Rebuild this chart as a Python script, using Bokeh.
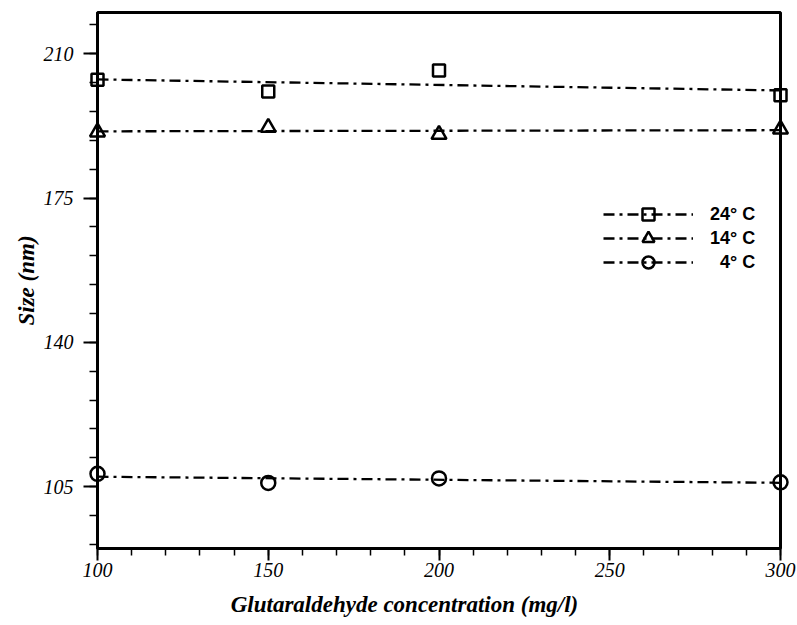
from bokeh.plotting import figure
from bokeh.models import FixedTicker, Legend, LegendItem, Range1d
from bokeh.embed import file_html
from bokeh.resources import INLINE
import numpy as np

# ---- data ----
conc = [100, 150, 200, 300]
size_24 = [203.7, 200.85, 205.95, 199.9]
size_14 = [191.0, 192.1, 190.4, 191.7]
size_4 = [108.1, 105.9, 107.0, 106.05]
labels = ["24\u00b0 C", "14\u00b0 C", "\u20074\u00b0 C"]

x_ticks = [100, 150, 200, 250, 300]
x_minor = list(range(100, 301, 10))
y_ticks = [105, 140, 175, 210]
y_minor = list(range(91, 220, 7))

p = figure(width=797, height=625, output_backend="svg", toolbar_location=None,
           x_range=Range1d(100, 300), y_range=Range1d(90, 220),
           min_border_left=97, min_border_right=17, min_border_top=12, min_border_bottom=77,
           background_fill_color="white", border_fill_color="white")

p.xgrid.visible = False
p.ygrid.visible = False
p.outline_line_color = "black"
p.outline_line_width = 3

dash = "11 5 3 5"
series = [(size_24, "square", 12), (size_14, "triangle", 15), (size_4, "circle", 14)]
legend_bottoms = [319, 295, 271]  # screen offsets of the three legend rows
for (vals, marker, msize), lab, lb in zip(series, labels, legend_bottoms):
    fit = np.polyfit(conc, vals, 1)
    xs = [conc[0], conc[-1]]
    ys = list(np.polyval(fit, xs))
    lr = p.line(xs, ys, line_color="black", line_width=2.3, line_dash=dash)
    sr = p.scatter(conc, vals, marker=marker, size=msize, fill_color=None,
                   line_color="black", line_width=2.5, level="overlay")
    leg = Legend(items=[LegendItem(label=lab, renderers=[lr, sr])], location=(506, lb),
                 glyph_width=90, glyph_height=30, label_height=30, spacing=0,
                 label_standoff=17, padding=0, margin=0,
                 border_line_color=None, background_fill_alpha=0,
                 label_text_font="Liberation Sans", label_text_font_style="bold",
                 label_text_font_size="18px", label_text_color="black")
    p.add_layout(leg)

for ax in (p.xaxis, p.yaxis):
    ax.axis_line_width = 3
    ax.axis_line_color = "black"
    ax.major_tick_in = 0
    ax.minor_tick_in = 0
    ax.major_tick_line_width = 2
    ax.minor_tick_line_width = 1.5
    ax.major_label_text_font = "Liberation Serif"
    ax.major_label_text_font_style = "italic"
    ax.major_label_text_font_size = "20px"
    ax.major_label_text_color = "black"
    ax.axis_label_text_font = "Liberation Serif"
    ax.axis_label_text_font_style = "bold italic"
    ax.axis_label_text_font_size = "23px"
    ax.axis_label_text_color = "black"

p.xaxis.ticker = FixedTicker(ticks=x_ticks, minor_ticks=x_minor)
p.yaxis.ticker = FixedTicker(ticks=y_ticks, minor_ticks=y_minor)
p.xaxis.major_tick_out = 12
p.xaxis.minor_tick_out = 7
p.yaxis.major_tick_out = 14
p.yaxis.minor_tick_out = 8
p.xaxis.major_label_standoff = 2
p.yaxis.major_label_standoff = 10
p.xaxis.axis_label = "Glutaraldehyde concentration (mg/l)" + "\u2002" * 6
p.yaxis.axis_label = "Size (nm)"
p.xaxis.axis_label_standoff = 12
p.yaxis.axis_label_standoff = 2

open("out.html", "w").write(file_html(p, INLINE))
